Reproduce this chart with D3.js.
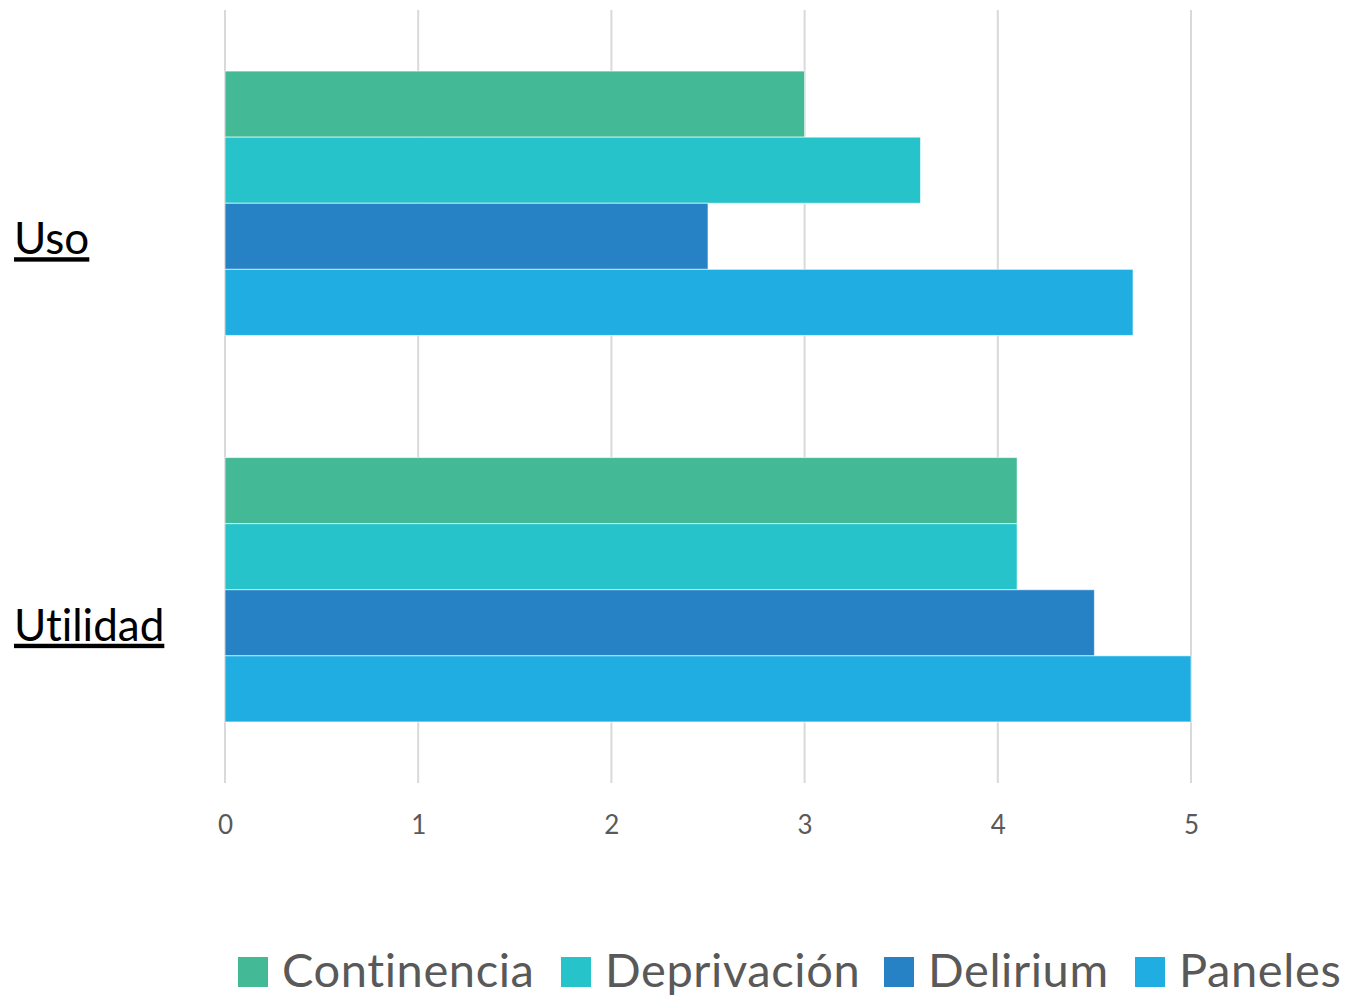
<!DOCTYPE html>
<html><head><meta charset="utf-8">
<script src="https://cdn.jsdelivr.net/npm/d3@7"></script>
<style>body{margin:0;background:#fff}svg{display:block}text{font-variant-ligatures:none;font-feature-settings:"liga" 0}</style>
</head><body>
<svg id="c" width="1348" height="999"></svg>
<script>
const categories = ["Uso", "Utilidad"];
const seriesNames = ["Continencia", "Deprivación", "Delirium", "Paneles"];
const seriesColors = ["#44b996", "#27c3cb", "#2781c5", "#1fade2"];
const usoValues = [3.0, 3.6, 2.5, 4.7];
const utilidadValues = [4.1, 4.1, 4.5, 5.0];
const xTicks = [0, 1, 2, 3, 4, 5];

const values = {Uso: usoValues, Utilidad: utilidadValues};
const svg = d3.select("#c");
const font = "Lato, 'Open Sans', sans-serif";

const x = d3.scaleLinear().domain([0, 5]).range([225, 1191]);
const y0 = d3.scaleBand().domain(categories).range([10, 783]).paddingInner(0.316).paddingOuter(0.158);
const y1 = d3.scaleBand().domain(seriesNames).range([0, y0.bandwidth()]);

// grid
svg.append("g").selectAll("line").data(xTicks).join("line")
  .attr("x1", d => x(d)).attr("x2", d => x(d))
  .attr("y1", 10).attr("y2", 783)
  .attr("stroke", "#d9d9d9").attr("stroke-width", 2);

// bars
const g = svg.append("g").selectAll("g").data(categories).join("g")
  .attr("transform", d => `translate(0,${y0(d)})`);
g.selectAll("rect").data(c => values[c].map((v, i) => ({v, i, s: seriesNames[i]}))).join("rect")
  .attr("x", x(0)).attr("y", d => y1(d.s))
  .attr("width", d => x(d.v) - x(0)).attr("height", y1.bandwidth())
  .attr("fill", d => seriesColors[d.i])
  .attr("stroke", "#ffffff").attr("stroke-opacity", 0.6).attr("stroke-width", 1);

// x axis tick labels
const xa = svg.append("g").attr("transform", "translate(0,783)")
  .call(d3.axisBottom(x).tickValues(xTicks).tickSize(0).tickPadding(33).tickFormat(d3.format("d")));
xa.select(".domain").remove();
xa.selectAll("text").attr("font-family", font).attr("font-size", 26).attr("fill", "#595959");

// category labels
svg.append("g").selectAll("text").data(categories).join("text")
  .attr("x", 14).attr("y", d => y0(d) + y0.bandwidth() / 2 + 51)
  .attr("font-family", font).attr("font-size", 44).attr("fill", "#000")
  .attr("text-decoration", "underline")
  .text(d => d);

// legend
const legendX = [238, 561, 884, 1135];
const lg = svg.append("g").selectAll("g").data(seriesNames).join("g")
  .attr("transform", (d, i) => `translate(${legendX[i]},957)`);
lg.append("rect").attr("width", 30).attr("height", 30).attr("fill", (d, i) => seriesColors[i]);
lg.append("text").attr("x", 44).attr("y", 30)
  .attr("font-family", font).attr("font-size", 47).attr("letter-spacing", 0.6).attr("fill", "#595959")
  .text(d => d);
</script>
</body></html>
